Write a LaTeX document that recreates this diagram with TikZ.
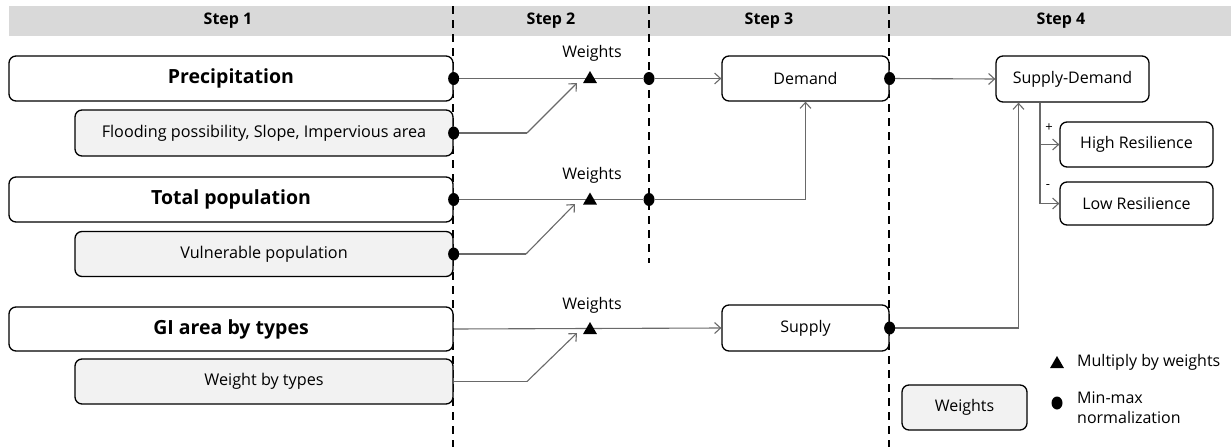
\documentclass[tikz,border=0pt]{standalone}
\usepackage{fontspec}
\setmainfont{Open Sans}
\usetikzlibrary{arrows.meta,shapes.geometric}
\definecolor{hdr}{RGB}{217,217,217}
\definecolor{subfill}{RGB}{242,242,242}
\definecolor{conn}{RGB}{105,105,105}
\begin{document}
\begin{tikzpicture}[x=1pt,y=-1pt,
  box/.style={draw=black, line width=1.3pt, rounded corners=7pt, inner sep=0pt, fill=white},
  mainbox/.style={box, font=\fontsize{19.5}{22}\selectfont\bfseries},
  subbox/.style={box, fill=subfill, font=\fontsize{16.2}{19}\selectfont},
  midbox/.style={box, font=\fontsize{16}{19}\selectfont},
  hdrlbl/.style={font=\fontsize{16}{18}\selectfont\bfseries, inner sep=0pt},
  lbl/.style={font=\fontsize{16}{19}\selectfont, inner sep=0pt},
  pm/.style={font=\fontsize{13}{15}\selectfont, inner sep=0pt},
  dashline/.style={draw=black, line width=1.8pt, dash pattern=on 8pt off 6pt},
  connline/.style={draw=conn, line width=1.1pt},
  arr/.style={connline, -{Straight Barb[length=6pt,width=11pt,line width=1.1pt]}},
  dot/.style={ellipse, fill=black, minimum width=11pt, minimum height=13pt, inner sep=0pt},
  tri/.style={regular polygon, regular polygon sides=3, fill=black, minimum size=16pt, inner sep=0pt}
]
\useasboundingbox (0,0) rectangle (1231,447);
% header band
\fill[hdr] (9,6) rectangle (1231,36);
\node[hdrlbl] (s1) at (228,21) {Step 1};
\node[hdrlbl] (s2) at (551,21) {Step 2};
\node[hdrlbl] (s3) at (769,21) {Step 3};
\node[hdrlbl] (s4) at (1061,21) {Step 4};
% dashed separators
\coordinate (v1t) at (453,6);  \coordinate (v1b) at (453,447);
\coordinate (v2t) at (649,6);  \coordinate (v2b) at (649,263);
\coordinate (v3t) at (889,6);  \coordinate (v3b) at (889,447);
\draw[dashline] (v1t) -- (v1b);
\draw[dashline] (v2t) -- (v2b);
\draw[dashline] (v3t) -- (v3b);
% step 1 boxes
\node[mainbox, minimum width=444pt, minimum height=45pt] (prec) at (231,78.5) {Precipitation};
\node[subbox, minimum width=378pt, minimum height=46pt] (flood) at (264,133) {Flooding possibility, Slope, Impervious area};
\node[mainbox, minimum width=444pt, minimum height=45pt] (totpop) at (231,199.5) {Total population};
\node[subbox, minimum width=378pt, minimum height=45pt] (vuln) at (264,254) {Vulnerable population};
\node[mainbox, minimum width=444pt, minimum height=44pt] (gi) at (231,329) {GI area by types};
\node[subbox, minimum width=378pt, minimum height=45pt] (wbt) at (264,381.5) {Weight by types};
% step 3 boxes
\node[midbox, minimum width=167pt, minimum height=45pt] (demand) at (805.5,78.5) {Demand};
\node[midbox, minimum width=167pt, minimum height=46pt] (supply) at (805.5,328) {Supply};
% step 4 boxes
\node[midbox, minimum width=153pt, minimum height=46pt] (sd) at (1072.5,79) {Supply-Demand};
\node[midbox, minimum width=153pt, minimum height=45pt] (high) at (1136.5,144.5) {High Resilience};
\node[midbox, minimum width=153pt, minimum height=43pt] (low) at (1136.5,203.5) {Low Resilience};
% legend
\node[subbox, font=\fontsize{16}{19}\selectfont, minimum width=125pt, minimum height=45pt] (wleg) at (964.5,407.5) {Weights};
% step 2 dots
\node[dot] (d2a) at (649,78.5) {};
\node[dot] (d2b) at (649,199.5) {};
% bend and tip points
\coordinate (b1) at (527,133);  \coordinate (a1) at (577,83);
\coordinate (b2) at (526,254);  \coordinate (a2) at (575,204);
\coordinate (b3) at (527,381.5); \coordinate (a3) at (577,333);
% connectors
\draw[connline] (prec.east) -- (d2a);
\draw[arr] (d2a) -- (demand.west);
\draw[connline] (flood.east) -- (b1);
\draw[arr] (b1) -- (a1);
\draw[connline] (totpop.east) -- (d2b);
\draw[arr] (d2b) -| (demand.south);
\draw[connline] (vuln.east) -- (b2);
\draw[arr] (b2) -- (a2);
\draw[arr] (gi.east) -- (supply.west);
\draw[connline] (wbt.east) -- (b3);
\draw[arr] (b3) -- (a3);
\draw[arr] (demand.east) -- (sd.west);
\draw[arr] (supply.east) -| ([xshift=-54pt]sd.south);
\draw[arr] ([xshift=-32.5pt]sd.south) |- (high.west);
\draw[arr] ([xshift=-32.5pt]sd.south) |- (low.west);
\node[pm] (plus) at (1049,128) {+};
\node[pm] (minus) at (1048,187) {-};
% normalization dots
\node[dot] (n1) at (prec.east) {};
\node[dot] (n2) at (flood.east) {};
\node[dot] (n3) at (totpop.east) {};
\node[dot] (n4) at (vuln.east) {};
\node[dot] (n5) at (demand.east) {};
\node[dot] (n6) at (supply.east) {};
% weights triangles
\node[tri] (t1) at (590,79) {};
\node[tri] (t2) at (590,200.5) {};
\node[tri] (t3) at (590,330) {};
\node[lbl] (w1) at (592,53) {Weights};
\node[lbl] (w2) at (592,175) {Weights};
\node[lbl] (w3) at (592,305) {Weights};
% legend symbols
\node[tri] (ltri) at (1057,364) {};
\node[lbl, anchor=west] (ltxt) at (1077,362) {Multiply by weights};
\node[dot] (ldot) at (1057,403) {};
\node[lbl, anchor=west, align=left, font=\fontsize{16}{20}\selectfont] (ldtxt) at (1077,408) {Min-max\\normalization};
\end{tikzpicture}
\end{document}
